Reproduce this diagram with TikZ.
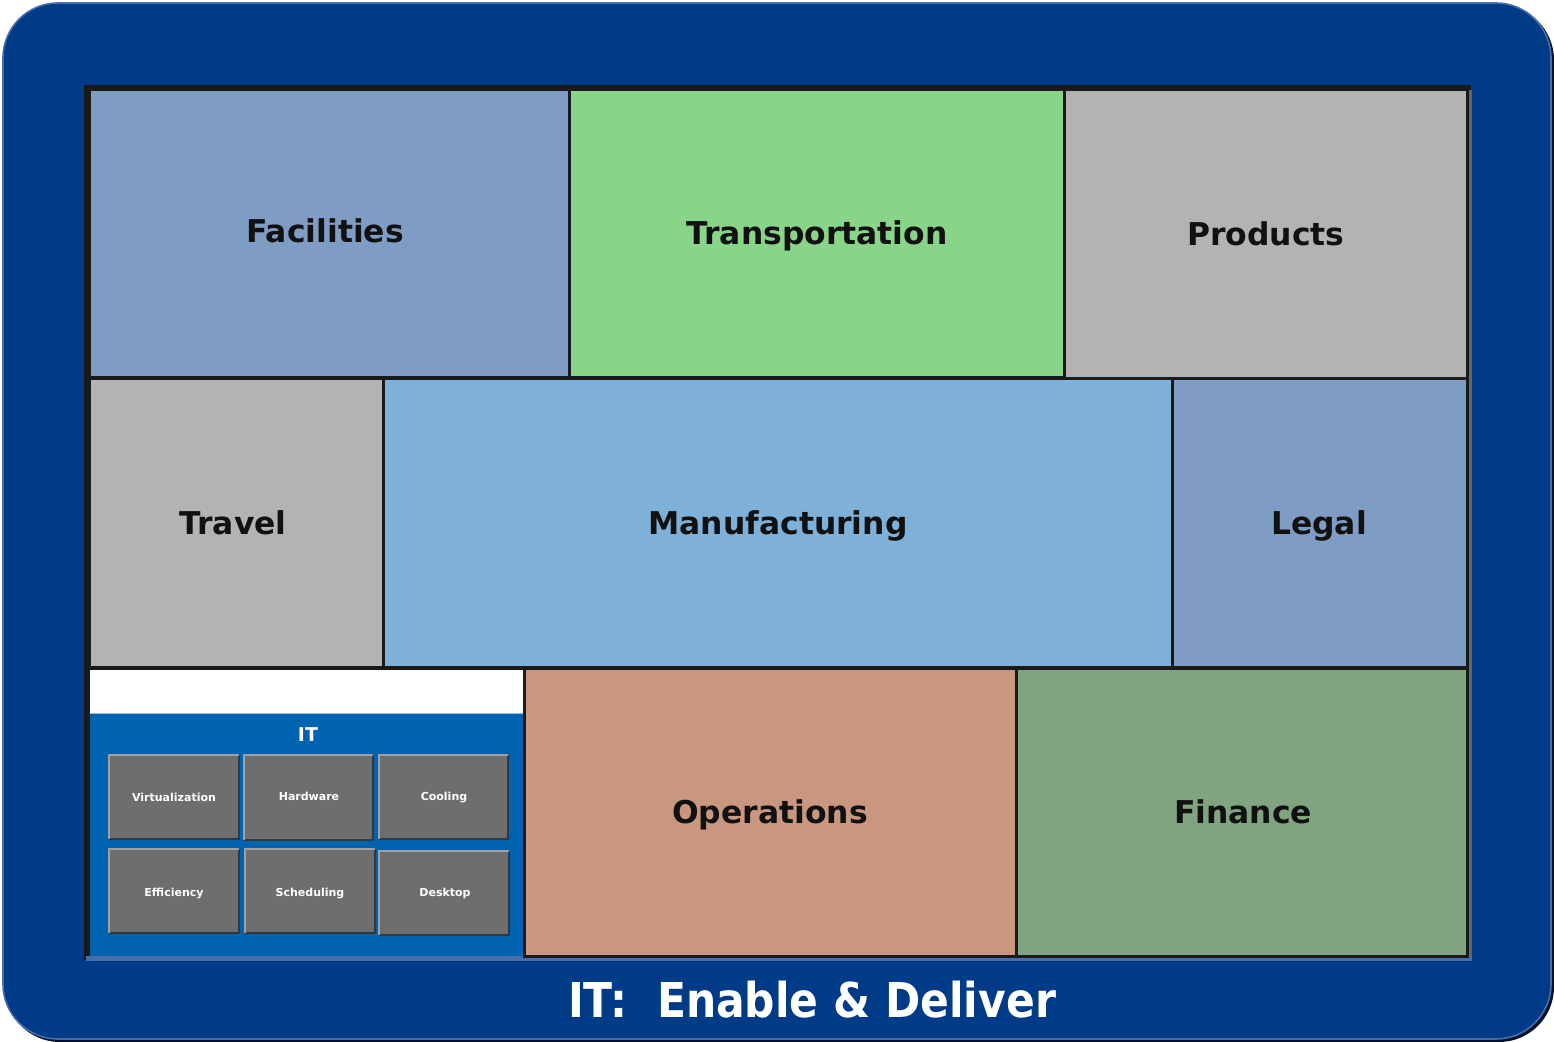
\documentclass[tikz,border=0pt]{standalone}
\usepackage{fontspec}
\setmainfont{DejaVu Sans}
\definecolor{outerblue}{RGB}{0,59,136}
\definecolor{outeredge}{RGB}{70,110,170}
\definecolor{facblue}{RGB}{127,157,196}
\definecolor{transgreen}{RGB}{136,212,136}
\definecolor{tgray}{RGB}{179,179,179}
\definecolor{manublue}{RGB}{127,176,215}
\definecolor{opsbrown}{RGB}{201,151,128}
\definecolor{fingreen}{RGB}{129,164,128}
\definecolor{itblue}{RGB}{0,99,175}
\definecolor{subgray}{RGB}{110,110,110}
\definecolor{tileline}{RGB}{26,26,26}
\definecolor{labelblack}{RGB}{17,17,17}
\tikzset{
  tile/.style={draw=tileline, line width=1.5pt},
  biglabel/.style={font=\bfseries\fontsize{15.7}{18}\selectfont, text=labelblack, anchor=base},
  sublabel/.style={font=\bfseries\fontsize{5.5}{7}\selectfont, text=white, anchor=base},
}
\newcommand{\subtile}[4]{%
  \fill[subgray] (#1,#2) rectangle (#3,#4);
  \draw[line width=0.6pt, color=black!50!subgray] (#1,#4) -- (#3,#4) -- (#3,#2);
  \draw[line width=0.6pt, color=white!35!subgray] (#1,#4) -- (#1,#2) -- (#3,#2);
}
\begin{document}
\begin{tikzpicture}[x=0.5pt,y=-0.5pt]
\useasboundingbox (0,0) rectangle (1554,1042);
% outer frame
\fill[black!70!outerblue, rounded corners=27.5pt] (5,5) rectangle (1554,1042);
\fill[outerblue, rounded corners=27.5pt, draw=outeredge, line width=0.8pt] (3,3) rectangle (1551,1039);
% inner frame
\fill[tileline] (84,85) rectangle (1471,960);
\fill[gray!80!black] (1467,90) rectangle (1472,958);
\fill[outeredge] (86,956) rectangle (1472,961);
% row 1
\draw[tile, fill=facblue] (89,90) rectangle (569,378);
\draw[tile, fill=transgreen] (569,90) rectangle (1064,378);
\draw[tile, fill=tgray] (1064,90) rectangle (1467,379);
% row 2
\draw[tile, fill=tgray] (89,379) rectangle (383,668);
\draw[tile, fill=manublue] (383,379) rectangle (1172,668);
\draw[tile, fill=facblue] (1172,379) rectangle (1467,668);
% row 3
\fill[white] (90,670) rectangle (523,714);
\fill[itblue] (90,714) rectangle (523,956);
\draw[line width=0.5pt, color=white!60!itblue] (90,714) -- (523,714);
\draw[tile, fill=opsbrown] (524,669) rectangle (1016,956);
\draw[tile, fill=fingreen] (1016,669) rectangle (1467,956);
% IT sub tiles
\subtile{109}{755}{239}{839}
\subtile{244}{755}{373}{840}
\subtile{379}{755}{508}{839}
\subtile{109}{849}{239}{933}
\subtile{245}{849}{375}{933}
\subtile{379}{851}{509}{935}
% labels
\node[biglabel] (facilities) at (325,243) {Facilities};
\node[biglabel] (transportation) at (817,245) {Transportation};
\node[biglabel] (products) at (1266,246) {Products};
\node[biglabel] (travel) at (233,535) {Travel};
\node[biglabel] (manufacturing) at (778,535) {Manufacturing};
\node[biglabel] (legal) at (1319,535) {Legal};
\node[biglabel] (operations) at (770,824) {Operations};
\node[biglabel] (finance) at (1243,824) {Finance};
\node[font=\bfseries\fontsize{9.5}{11}\selectfont, text=white, anchor=base] (it) at (308,742) {IT};
\node[sublabel] (virt) at (174,802) {Virtualization};
\node[sublabel] (hard) at (309,801) {Hardware};
\node[sublabel] (cool) at (444,801) {Cooling};
\node[sublabel] (eff) at (174,896) {Efficiency};
\node[sublabel] (sched) at (310,896) {Scheduling};
\node[sublabel] (desk) at (445,897) {Desktop};
\node[font=\bfseries\fontsize{24}{28}\selectfont, text=white, anchor=base] (title) at (812,1017) {\scalebox{0.885}[1]{IT:\ \ Enable \& Deliver}};
\end{tikzpicture}
\end{document}
